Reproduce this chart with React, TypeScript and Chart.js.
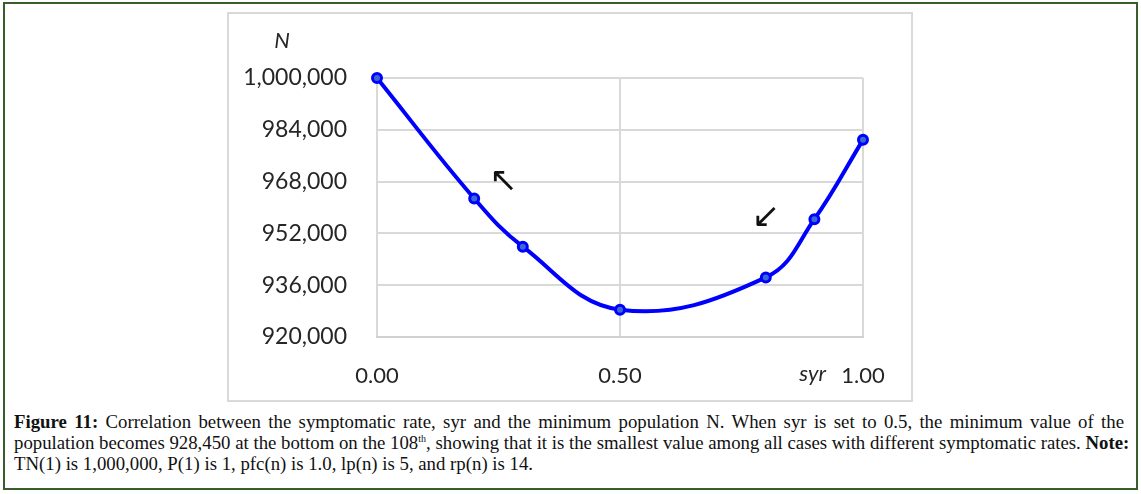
import React, { useEffect, useRef } from "react";
import { Chart, registerables } from "chart.js";

Chart.register(...registerables);

// ---- data ----
const syr = [0, 0.2, 0.3, 0.5, 0.8, 0.9, 1.0];
const minPopulation = [1000000, 962800, 947900, 928450, 938400, 956400, 980900];
const xTicks = [0, 0.5, 1];
const yTicks = [920000, 936000, 952000, 968000, 984000, 1000000];
const arrowLabels = ["\u2196", "\u2199"];
const arrowX = [0.26, 0.8];
const arrowY = [967800, 956600];
const yAxisTitle = "N";
const xAxisTitle = "syr";

const TICK_FONT = "Lato";
const TEXT_COLOR = "#262626";

const overlay = {
  id: "overlay",
  afterDraw(chart: any) {
    const { ctx } = chart;
    const x = chart.scales.x;
    const y = chart.scales.y;
    ctx.save();
    ctx.fillStyle = TEXT_COLOR;
    ctx.font = `italic 22px ${TICK_FONT}`;
    ctx.textAlign = "center";
    ctx.textBaseline = "middle";
    ctx.fillText(yAxisTitle, x.left - 95, y.top - 37);
    ctx.textAlign = "right";
    ctx.fillText(xAxisTitle, x.getPixelForValue(1) - 37, y.bottom + 37);
    ctx.font = "34px 'DejaVu Sans'";
    ctx.textAlign = "center";
    ctx.fillStyle = "#111";
    arrowLabels.forEach((a, i) =>
      ctx.fillText(a, x.getPixelForValue(arrowX[i]), y.getPixelForValue(arrowY[i]))
    );
    ctx.restore();
  },
};

export default function App() {
  const ref = useRef<HTMLCanvasElement | null>(null);

  useEffect(() => {
    document.body.style.margin = "0";
    if (!ref.current) return;
    const chart = new Chart(ref.current, {
      type: "line",
      data: {
        datasets: [
          {
            data: syr.map((v, i) => ({ x: v, y: minPopulation[i] })),
            borderColor: "#0000ff",
            borderWidth: 4,
            tension: 0.4,
            pointRadius: 4.5,
            pointBorderWidth: 3,
            pointBorderColor: "#0000ff",
            pointBackgroundColor: "#3a6ad0",
            fill: false,
            clip: false,
          } as any,
        ],
      },
      options: {
        animation: false,
        responsive: false,
        devicePixelRatio: 1,
        layout: { padding: { left: 0, right: 49, top: 65, bottom: 0 } },
        plugins: { legend: { display: false }, tooltip: { enabled: false } },
        scales: {
          x: {
            type: "linear",
            min: 0,
            max: 1,
            afterFit: (s: any) => {
              s.height = 62;
            },
            afterBuildTicks: (s: any) => {
              s.ticks = xTicks.map((v) => ({ value: v }));
            },
            ticks: {
              padding: 26,
              color: TEXT_COLOR,
              font: { family: TICK_FONT, size: 22 },
              callback: (v: any) => Number(v).toFixed(2),
              maxRotation: 0,
            },
            grid: { color: "#d9d9d9", lineWidth: 2, drawTicks: false },
            border: { display: true, color: "#d0d0d0", width: 2 },
          },
          y: {
            min: 920000,
            max: 1000000,
            afterFit: (s: any) => {
              s.width = 149;
            },
            afterBuildTicks: (s: any) => {
              s.ticks = yTicks.map((v) => ({ value: v }));
            },
            ticks: {
              padding: 30,
              color: TEXT_COLOR,
              font: { family: TICK_FONT, size: 23 },
              callback: (v: any) => Number(v).toLocaleString("en-US"),
            },
            grid: { color: "#d9d9d9", lineWidth: 2, drawTicks: false },
            border: { display: false },
          },
        },
      },
      plugins: [overlay],
    });
    return () => chart.destroy();
  }, []);

  const lineStyle: React.CSSProperties = {
    whiteSpace: "nowrap",
    textAlign: "justify",
    textAlignLast: "justify",
  };

  return (
    <div
      style={{
        position: "relative",
        width: 1141,
        height: 494,
        background: "#fff",
        overflow: "hidden",
      }}
    >
      <div
        style={{
          position: "absolute",
          left: 3,
          top: 2,
          width: 1131,
          height: 484,
          border: "2px solid #375e2c",
        }}
      />
      <div
        style={{
          position: "absolute",
          left: 227,
          top: 12,
          width: 682,
          height: 386,
          border: "2px solid #d9d9d9",
        }}
      />
      <canvas
        ref={ref}
        width={684}
        height={386}
        style={{ position: "absolute", left: 228, top: 13, width: 684, height: 386 }}
      />
      <div
        style={{
          position: "absolute",
          left: 14,
          top: 412,
          width: 1110,
          fontFamily: "'Liberation Serif', serif",
          fontSize: 18.8,
          lineHeight: "20.8px",
          color: "#111",
        }}
      >
        <div style={lineStyle}>
          <b>Figure 11:</b> Correlation between the symptomatic rate, syr and the minimum population N. When syr is set to 0.5, the minimum value of the
        </div>
        <div style={lineStyle}>
          population becomes 928,450 at the bottom on the 108<sup style={{ fontSize: 10, lineHeight: 0 }}>th</sup>, showing that it is the smallest value among all cases with different symptomatic rates. <b>Note:</b>
        </div>
        <div style={{ whiteSpace: "nowrap" }}>
          TN(1) is 1,000,000, P(1) is 1, pfc(n) is 1.0, lp(n) is 5, and rp(n) is 14.
        </div>
      </div>
    </div>
  );
}
